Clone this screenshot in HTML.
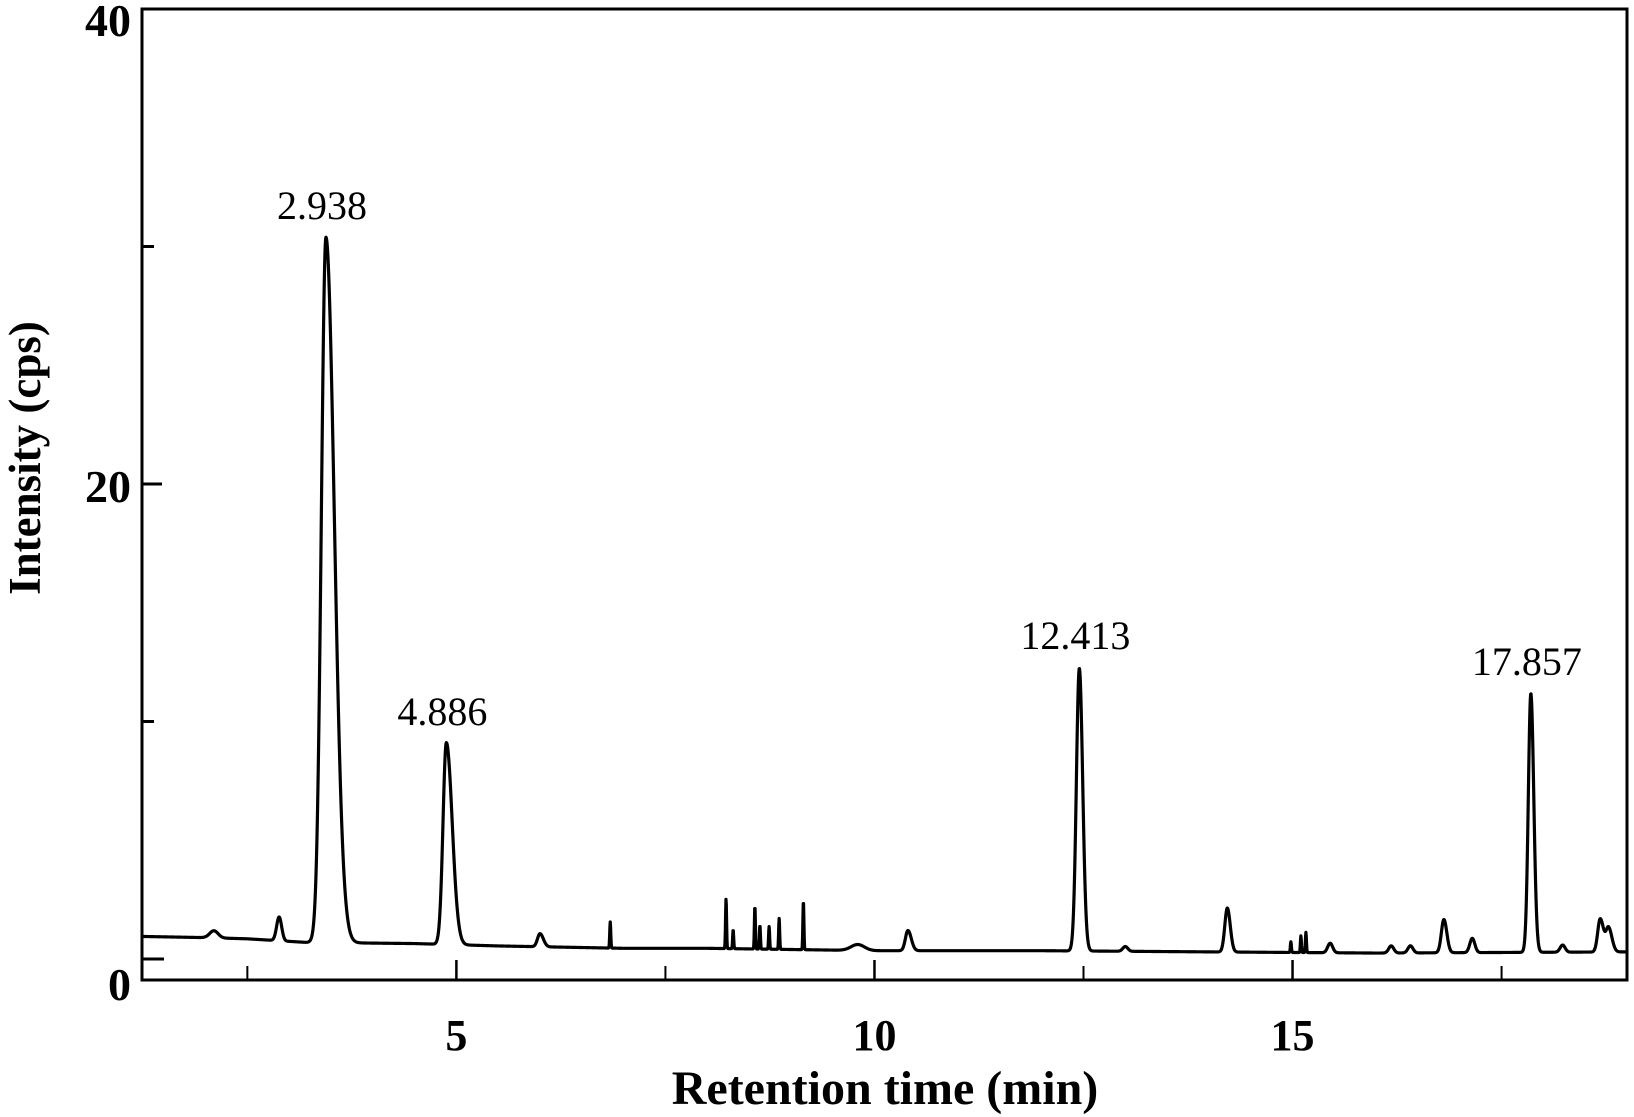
<!DOCTYPE html>
<html><head><meta charset="utf-8"><style>
html,body{margin:0;padding:0;background:#fff;}
svg{display:block;}
text{font-family:"Liberation Serif",serif;fill:#000;}
</style></head><body>
<svg id="chart" width="1634" height="1117" viewBox="0 0 1634 1117">
<g id="axes"></g>
<path id="trace" fill="none" stroke="#000" stroke-width="3.2" stroke-linejoin="round"></path>
<g id="labels"></g>
<text x="0" y="0" transform="translate(40,458) rotate(-90)" text-anchor="middle" font-size="45" font-weight="bold">Intensity (cps)</text>
<text x="885" y="1104" text-anchor="middle" font-size="48" font-weight="bold">Retention time (min)</text>
</svg>
<script>
// ---- data ----
const xTicks = [5, 10, 15];
const xMinorTicks = [2.5, 7.5, 12.5, 17.5];
const yTicks = [0, 20, 40];
const yMinorTicks = [10, 30];
const baselineTimes = [1.24, 2.0, 2.5, 3.2, 4.5, 5.5, 7.0, 8.0, 10.0, 12.0, 14.0, 16.0, 19.0];
const baselineValues = [0.95, 0.9, 0.85, 0.7, 0.65, 0.55, 0.45, 0.45, 0.35, 0.35, 0.3, 0.25, 0.3];
// peaks: retention time, height above baseline, left sigma, right sigma
const peakTimes   = [3.44, 4.88, 12.45, 17.85, 2.88, 2.1, 6.0, 9.8, 10.4, 14.22, 16.81, 17.15, 18.23, 18.68, 18.78, 15.45, 16.18, 16.41, 13.0];
const peakHeights = [29.7, 8.5, 11.9, 10.9, 1.0, 0.3, 0.55, 0.25, 0.85, 1.85, 1.4, 0.6, 0.3, 1.4, 1.0, 0.4, 0.3, 0.3, 0.2];
const peakSigL    = [0.055, 0.04, 0.035, 0.03, 0.03, 0.05, 0.03, 0.08, 0.03, 0.03, 0.03, 0.03, 0.03, 0.03, 0.03, 0.03, 0.03, 0.03, 0.03];
const peakSigR    = [0.10, 0.07, 0.04, 0.035, 0.03, 0.05, 0.04, 0.08, 0.04, 0.035, 0.035, 0.03, 0.03, 0.04, 0.04, 0.03, 0.03, 0.03, 0.03];
const spikeTimes   = [6.84, 8.225, 8.31, 8.57, 8.63, 8.74, 8.86, 9.15, 14.98, 15.10, 15.16];
const spikeHeights = [1.1, 2.1, 0.8, 1.8, 1.0, 0.95, 1.3, 2.05, 0.45, 0.7, 0.85];
const peakLabelTimes = [3.44, 4.88, 12.45, 17.85];
const peakLabelValues = [30.4, 9.1, 12.3, 11.2];
const peakLabelTexts = ["2.938", "4.886", "12.413", "17.857"];

// ---- scales ----
const X0 = 142, X1 = 1627, T0 = 1.24, T1 = 19.0;
const Y0 = 959, YTOP = 9, V0 = 0, V1 = 40;
const xs = t => X0 + (t - T0) / (T1 - T0) * (X1 - X0);
const ys = v => Y0 - (v - V0) / (V1 - V0) * (Y0 - YTOP);
const NS = "http://www.w3.org/2000/svg";

function interpBase(t){
  for(let i=0;i<baselineTimes.length-1;i++){
    if(t<=baselineTimes[i+1]){
      const f=(t-baselineTimes[i])/(baselineTimes[i+1]-baselineTimes[i]);
      return baselineValues[i]+f*(baselineValues[i+1]-baselineValues[i]);
    }
  }
  return baselineValues[baselineValues.length-1];
}
function signal(t){
  let v=interpBase(t);
  for(let i=0;i<peakTimes.length;i++){
    const d=t-peakTimes[i];
    const s=d<0?peakSigL[i]:peakSigR[i];
    v+=peakHeights[i]*Math.exp(-0.5*d*d/(s*s));
  }
  for(let i=0;i<spikeTimes.length;i++){
    const d=t-spikeTimes[i];
    v+=spikeHeights[i]*Math.exp(-0.5*d*d/(0.006*0.006));
  }
  return v;
}
let d="";
const step=0.004;
for(let t=T0;t<=T1+1e-9;t+=step){
  d+=(d?"L":"M")+xs(t).toFixed(2)+","+ys(signal(t)).toFixed(2);
}
document.getElementById('trace').setAttribute('d',d);

const axes=document.getElementById('axes');
function mk(tag,attrs,parent){const e=document.createElementNS(NS,tag);for(const k in attrs)e.setAttribute(k,attrs[k]);parent.appendChild(e);return e;}
const frame=mk('rect',{x:X0,y:YTOP,width:X1-X0,height:980-YTOP,fill:'none',stroke:'#000','stroke-width':3},axes);


xTicks.forEach(t=>{
  const l=mk('line',{x1:xs(t),x2:xs(t),y1:980,y2:960,stroke:'#000','stroke-width':2.5},axes);
  
  
  const tx=mk('text',{x:xs(t),y:1050,'text-anchor':'middle','font-size':44,'font-weight':'bold'},axes);
  tx.textContent=t;
  
  
});
xMinorTicks.forEach(t=>{
  const l=mk('line',{x1:xs(t),x2:xs(t),y1:980,y2:966,stroke:'#000','stroke-width':2},axes);
  
  
});
yTicks.forEach(v=>{
  const y=v===0?1000:(v===40?36:ys(v)+18);
  if(v===20){
    const l=mk('line',{x1:X0,x2:X0+20,y1:ys(v),y2:ys(v),stroke:'#000','stroke-width':3},axes);
    
    
  }
  const tx=mk('text',{x:131,y:y,'text-anchor':'end','font-size':46,'font-weight':'bold'},axes);
  tx.textContent=v;
  
  
});
yMinorTicks.forEach(v=>{
  const l=mk('line',{x1:X0,x2:X0+12,y1:ys(v),y2:ys(v),stroke:'#000','stroke-width':3},axes);
  
  
});
const z=mk('line',{x1:X0,x2:X0+22,y1:Y0,y2:Y0,stroke:'#000','stroke-width':3},axes);



const labels=document.getElementById('labels');
peakLabelTimes.forEach((t,i)=>{
  const tx=mk('text',{x:xs(t)-4,y:ys(peakLabelValues[i])-18,'text-anchor':'middle','font-size':40},labels);
  tx.textContent=peakLabelTexts[i];
  
  
});
</script>
</body></html>
